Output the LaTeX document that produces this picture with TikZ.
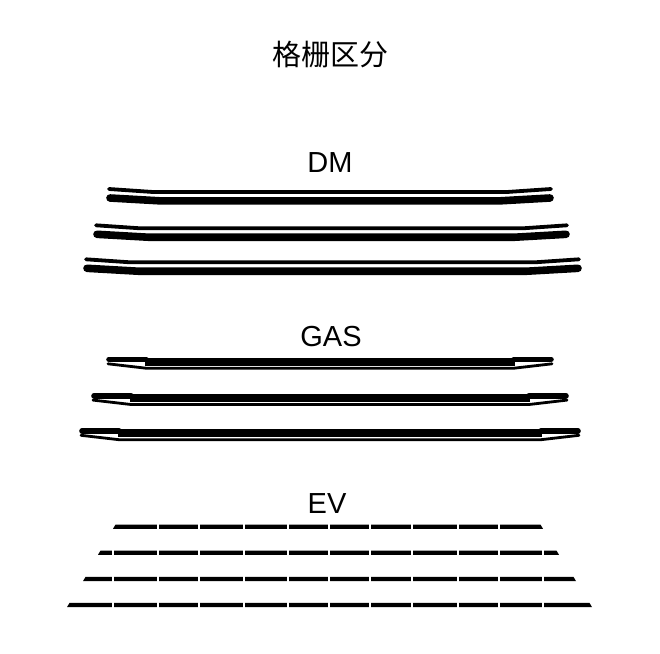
\documentclass[tikz,border=0pt]{standalone}
\usepackage{fontspec}
\setmainfont{Liberation Sans}
\newfontfamily\cjkfont{Noto Sans CJK SC}

\begin{document}
\begin{tikzpicture}[
  x=1pt,
  y=-1pt,
  title/.style={font=\cjkfont\fontsize{29}{31}\selectfont, inner sep=0pt},
  group/.style={font=\fontsize{29}{31}\selectfont, inner sep=0pt},
  thinbar/.style={draw=black, line width=3.8pt, line cap=round, line join=round},
  thickbar/.style={draw=black, line width=7.6pt, line cap=round, line join=round},
  gasend/.style={draw=black, line width=5.6pt, line cap=round},
  gasthin/.style={draw=black, line width=2.8pt, line cap=round, line join=round},
  evgap/.style={draw=white, line width=2pt}
]

\fill[white] (0,0) rectangle (660,653);
\useasboundingbox (0,0) rectangle (660,653);

\node[title] (title) at (330,55) {格栅区分};

% DM: thin strip over a thick strip, ends bent upwards
\node[group] (dm) at (330,163) {DM};
\foreach \l/\r/\y in {109/551/192, 96/567/228.3, 86/579/262.3} {
  \draw[thinbar] (\l,\y-3) -- (\l+44,\y) -- (\r-44,\y) -- (\r,\y-3);
  \draw[thickbar] (\l+1,\y+6) -- (\l+52,\y+8.9) -- (\r-52,\y+8.9) -- (\r-1,\y+6);
}

% GAS: thick strip over a thin strip, thin ends run up to the tips
\node[group] (gas) at (331,337) {GAS};
\foreach \l/\r/\y in {108/552/362, 93/567/398.3, 81/579/433.5} {
  \draw[gasend] (\l+1,\y-2.6) -- (\l+38,\y-2.6);
  \draw[gasend] (\r-38,\y-2.6) -- (\r-1,\y-2.6);
  \draw[thickbar, line cap=butt] (\l+37,\y-0.3) -- (\r-37,\y-0.3);
  \draw[gasthin] (\l,\y+1.8) -- (\l+38,\y+6.2) -- (\r-38,\y+6.2) -- (\r,\y+1.8);
}

% EV: dashed strips, one more piece per side on each row
\node[group] (ev) at (327,504) {EV};
\foreach \l/\r/\y in {113/543/526.7, 98/559/552.7, 83/576/579, 67/592/605} {
  \fill[black] (\l+2.5,\y-2.1) -- (\r-2.5,\y-2.1) -- (\r,\y+2.1) -- (\l,\y+2.1) -- cycle;
  \foreach \g in {113,158,199,244,288,329,370,412,458,499,543} {
    \ifdim \g pt>\l pt \ifdim \g pt<\r pt
      \draw[evgap] (\g,\y-3.5) -- (\g,\y+3.5);
    \fi\fi
  }
}

\end{tikzpicture}
\end{document}
